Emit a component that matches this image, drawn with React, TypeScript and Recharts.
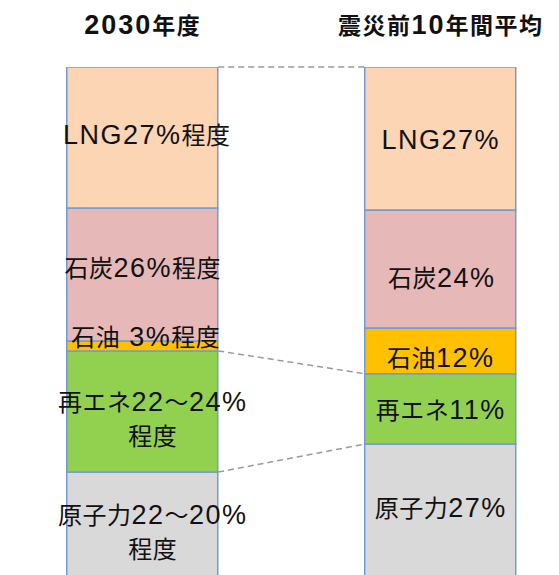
import React from 'react';
import { ComposedChart, Bar, XAxis, YAxis, ReferenceLine, Scatter } from 'recharts';

// Categories (bar titles)
const categories = ['2030年度', '震災前10年間平均'];

// Shares (%) as drawn, bottom to top
const nuclear = [22.1, 27.5];
const renewables = [23.3, 13.5];
const oil = [1.9, 8.8];
const coal = [25.6, 22.7];
const lng = [27.1, 27.5];

// Segment labels
const nuclearLabels = [['原子力22〜20%', '程度'], ['原子力27%']];
const renewablesLabels = [['再エネ22〜24%', '程度'], ['再エネ11%']];
const oilLabels = [['石油 3%程度'], ['石油12%']];
const coalLabels = [['石炭26%程度'], ['石炭24%']];
const lngLabels = [['LNG27%程度'], ['LNG27%']];

const series = [
  { key: 'nuclear', values: nuclear, labels: nuclearLabels, fill: '#d9d9d9' },
  { key: 'renewables', values: renewables, labels: renewablesLabels, fill: '#92d050' },
  { key: 'oil', values: oil, labels: oilLabels, fill: '#ffc000' },
  { key: 'coal', values: coal, labels: coalLabels, fill: '#e6b9b8' },
  { key: 'lng', values: lng, labels: lngLabels, fill: '#fcd5b5' },
];

const data = categories.map((name, i) => {
  const row: any = { x: i, name };
  series.forEach((s) => (row[s.key] = s.values[i]));
  return row;
});

// label anchor points (middle of each stacked segment)
const labelPoints: any[] = [];
categories.forEach((_, i) => {
  let base = 0;
  series.forEach((s) => {
    const v = s.values[i];
    labelPoints.push({ x: i, y: base + v / 2, lines: s.labels[i], id: `${s.key}-${i}` });
    base += v;
  });
});

// layout tweaks (pixels)
const labelShift: Record<string, [number, number]> = {
  'nuclear-0': [10, 2],
  'renewables-0': [10, 7],
  'oil-0': [3, -9],
  'coal-0': [0, -6],
  'lng-0': [4, -2],
  'nuclear-1': [0, -8],
  'renewables-1': [0, 1],
  'oil-1': [0, 7],
  'coal-1': [1, 9],
  'lng-1': [0, 1],
};

const CHART_W = 559;
const X_DOMAIN: [number, number] = [-0.479, 1.397];
const BAR_SIZE = 151;
const pxPerUnit = CHART_W / (X_DOMAIN[1] - X_DOMAIN[0]);
const edge = BAR_SIZE / 2 / pxPerUnit;

const cum = (idx: number, upto: number) =>
  series.slice(0, upto).reduce((a, s) => a + s.values[idx], 0);

const connectors = [5, 2, 1].map((upto) => [
  { x: 0 + edge, y: cum(0, upto) },
  { x: 1 - edge, y: cum(1, upto) },
]);

const CJK_FONT = '"Noto Sans CJK JP", "Noto Sans CJK SC", sans-serif';
const LATIN_FONT = '"Liberation Sans", Arial, sans-serif';

function runs(
  str: string,
  opt: { cjkSize: number; latinSize: number; cjkSpacing: number; latinSpacing: number }
) {
  const parts = str.match(/[\x00-\x7F]+|[^\x00-\x7F]+/g) || [];
  return parts.map((p, k) => {
    const latin = /^[\x00-\x7F]/.test(p);
    return (
      <tspan
        key={k}
        fontFamily={latin ? LATIN_FONT : CJK_FONT}
        fontSize={latin ? opt.latinSize : opt.cjkSize}
        letterSpacing={latin ? opt.latinSpacing : opt.cjkSpacing}
      >
        {p}
      </tspan>
    );
  });
}

const LABEL_OPT = { cjkSize: 24, latinSize: 27, cjkSpacing: 0.5, latinSpacing: 1.5 };
const TITLE_OPT = { cjkSize: 23, latinSize: 27, cjkSpacing: 1.5, latinSpacing: 2 };

const LabelShape = (props: any) => {
  const { cx, cy, payload } = props;
  if (cx == null || cy == null || !payload) return null;
  const [dx, dy] = labelShift[payload.id] || [0, 0];
  const lines: string[] = payload.lines;
  const lh = 34;
  const start = cy + dy - ((lines.length - 1) * lh) / 2;
  const x = cx + dx;
  return (
    <text x={x} y={start + 9} textAnchor="middle" fill="#111">
      {lines.map((ln, k) => (
        <tspan key={k} x={x} dy={k === 0 ? 0 : lh}>
          {runs(ln, LABEL_OPT)}
        </tspan>
      ))}
    </text>
  );
};

const TitleTick = (props: any) => {
  const { x, payload } = props;
  const label = categories[payload.value];
  if (label == null) return null;
  return (
    <text x={x} y={34} textAnchor="middle" fontWeight="bold" fill="#111">
      {runs(label, TITLE_OPT)}
    </text>
  );
};

export default function App() {
  return (
    <div
      style={{
        position: 'fixed',
        left: 0,
        top: 0,
        width: 559,
        height: 575,
        overflow: 'hidden',
        background: '#fff',
      }}
    >
      <ComposedChart
        width={CHART_W}
        height={600}
        data={data}
        margin={{ top: 7, right: 0, bottom: 13, left: 0 }}
      >
        <XAxis
          type="number"
          dataKey="x"
          domain={X_DOMAIN}
          allowDataOverflow
          ticks={[0, 1]}
          interval={0}
          orientation="top"
          height={60}
          axisLine={false}
          tickLine={false}
          tick={<TitleTick />}
        />
        <YAxis type="number" domain={[0, 100]} hide allowDataOverflow />
        {series.map((s) => (
          <Bar
            key={s.key}
            dataKey={s.key}
            stackId="a"
            fill={s.fill}
            stroke="#739bd3"
            strokeWidth={1.5}
            barSize={BAR_SIZE}
            isAnimationActive={false}
          />
        ))}
        {connectors.map((seg, k) => (
          <ReferenceLine
            key={k}
            segment={seg}
            stroke="#9a9a9a"
            strokeWidth={1.5}
            strokeDasharray="6 4"
            ifOverflow="visible"
          />
        ))}
        <Scatter
          data={labelPoints}
          dataKey="y"
          shape={<LabelShape />}
          isAnimationActive={false}
        />
      </ComposedChart>
    </div>
  );
}
